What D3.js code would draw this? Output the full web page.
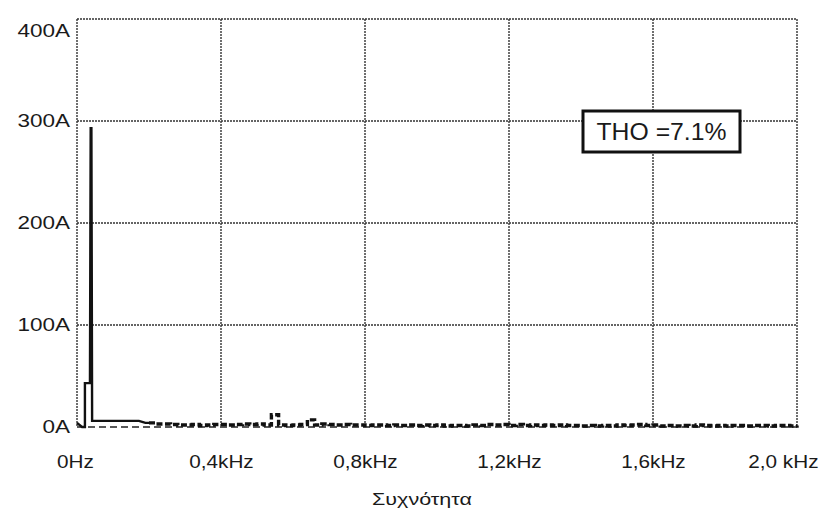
<!DOCTYPE html>
<html><head><meta charset="utf-8">
<script src="https://cdn.jsdelivr.net/npm/d3@7"></script>
<style>
html,body{margin:0;padding:0;background:#fff;}
svg{display:block;}
text{font-family:"Liberation Sans",Arial,sans-serif;fill:#1a1a1a;}
</style></head>
<body>
<svg id="c" width="821" height="514"></svg>
<script>
// ---- data ----
const yTicks = [0, 100, 200, 300, 400];
const yTickLabels = ["0A", "100A", "200A", "300A", "400A"];
const xTicks = [0, 0.4, 0.8, 1.2, 1.6, 2.0];
const xTickLabels = ["0Hz", "0,4kHz", "0,8kHz", "1,2kHz", "1,6kHz", "2,0 kHz"];
const xTitle = "Συχνότητα";
const thdLabel = "THO =7.1%";

// fundamental region (kHz, A)
const fundFreq = [0, 0.014, 0.022, 0.022, 0.036, 0.038, 0.040, 0.042, 0.060, 0.100, 0.140, 0.172, 0.190, 0.200];
const fundAmp  = [4,   0,     0,     43,    43,    293,   293,   6,     6,     6,     6,     6,     4,     4];

// harmonic / noise floor, 20 Hz steps from 0.20 kHz to 2.00 kHz (A)
const noiseStart = 0.20, noiseStep = 0.02;
const noiseAmp = [4,3,3,2.5,2,2,2.5,1.5,2,2.5,
                  2.5,2,2.5,3,2.5,3,2,12,2,1.5,
                  2,2.5,7,2,3,2.5,2,2.5,2,2,
                  1.5,2,2,1.5,2,1.5,2,1.5,2,1.5,
                  2,1,1.5,1.5,1,2,1.5,2.5,2,2.5,
                  1.5,2.5,1.5,2,1.5,2,1.5,2,1.5,1.5,
                  1,1.5,1,1.5,1,2,1.5,2,2.5,1.5,
                  2,1,1.5,1,1.5,1,2,1.5,1,1.5,
                  1,1.5,1.5,1,1.5,1.5,1,1.5,1.5,1,1.5];

// ---- layout ----
const L = 77, R = 797, T = 19, B = 427;
const svg = d3.select("#c");
const x = d3.scaleLinear().domain([0, 2.0]).range([L, R]);
const y = d3.scaleLinear().domain([0, 400]).range([B, T]);

const gridCol = "#333";
// grid
const g = svg.append("g");
g.selectAll(".hg").data(yTicks.filter(v => v > 0)).join("line")
  .attr("x1", L).attr("x2", R).attr("y1", d => y(d)).attr("y2", d => y(d))
  .attr("stroke", gridCol).attr("stroke-width", 1.4).attr("stroke-dasharray", "2,1");
g.selectAll(".vg").data(xTicks).join("line")
  .attr("y1", T).attr("y2", B).attr("x1", d => x(d)).attr("x2", d => x(d))
  .attr("stroke", gridCol).attr("stroke-width", 1.4).attr("stroke-dasharray", "2,1");

// zero dashed line
svg.append("line").attr("x1", L).attr("x2", R).attr("y1", y(0)).attr("y2", y(0))
  .attr("stroke", "#222").attr("stroke-width", 1.6).attr("stroke-dasharray", "7,4");

// axes labels
const yAxis = d3.axisLeft(y).tickValues(yTicks).tickSize(0).tickPadding(0)
  .tickFormat((d, i) => yTickLabels[i]);
const ya = svg.append("g").attr("transform", `translate(${L - 7},0)`).call(yAxis);
ya.select(".domain").remove();
ya.selectAll("text").attr("font-size", 18).attr("font-family", "Liberation Sans")
  .attr("fill", "#1a1a1a").attr("dy", (d) => d === 400 ? "0.95em" : "0.32em")
  .each(function(){ const w = this.getComputedTextLength(); d3.select(this).attr("textLength", w*1.25).attr("lengthAdjust","spacingAndGlyphs"); });

const xAxis = d3.axisBottom(x).tickValues(xTicks).tickSize(0).tickPadding(0)
  .tickFormat((d, i) => xTickLabels[i]);
const xa = svg.append("g").attr("transform", `translate(0,${B + 28})`).call(xAxis);
xa.select(".domain").remove();
xa.selectAll("text").attr("font-size", 18).attr("font-family", "Liberation Sans")
  .attr("fill", "#1a1a1a").attr("dy", "0.71em")
  .attr("text-anchor", (d, i) => i === xTicks.length - 1 ? "end" : "middle")
  .attr("dx", (d, i) => i === xTicks.length - 1 ? 21 : (i === 0 ? -2 : 0))
  .each(function(){ const w = this.getComputedTextLength(); d3.select(this).attr("textLength", w*1.15).attr("lengthAdjust","spacingAndGlyphs"); });

// x title
svg.append("text").attr("x", 422).attr("y", 505).attr("text-anchor", "middle")
  .attr("font-family", "DejaVu Sans").attr("font-size", 17).attr("fill", "#222")
  .attr("textLength", 100).attr("lengthAdjust", "spacingAndGlyphs").text(xTitle);

// noise floor
const noisePts = noiseAmp.map((a, i) => [noiseStart + i * noiseStep, a]);
const lineStep = d3.line().x(d => x(d[0])).y(d => y(d[1])).curve(d3.curveStepAfter);
svg.append("path").datum(noisePts).attr("d", lineStep)
  .attr("fill", "none").attr("stroke", "#111").attr("stroke-width", 3.4)
  .attr("stroke-dasharray", "6,2.5");

// fundamental spectrum
const fundPts = fundFreq.map((f, i) => [f, fundAmp[i]]);
const line = d3.line().x(d => x(d[0])).y(d => y(d[1]));
svg.append("path").datum(fundPts).attr("d", line)
  .attr("fill", "none").attr("stroke", "#111").attr("stroke-width", 2.4)
  .attr("stroke-linejoin", "miter");

// THD box
const bx = 583, by = 111, bw = 157, bh = 41;
svg.append("rect").attr("x", bx).attr("y", by).attr("width", bw).attr("height", bh)
  .attr("fill", "#fff").attr("stroke", "#111").attr("stroke-width", 3);
svg.append("text").attr("x", bx + bw / 2).attr("y", by + bh / 2 + 8.5).attr("text-anchor", "middle")
  .attr("font-size", 24).attr("fill", "#111").attr("textLength", 130).attr("lengthAdjust", "spacingAndGlyphs")
  .text(thdLabel);
</script>
</body></html>
